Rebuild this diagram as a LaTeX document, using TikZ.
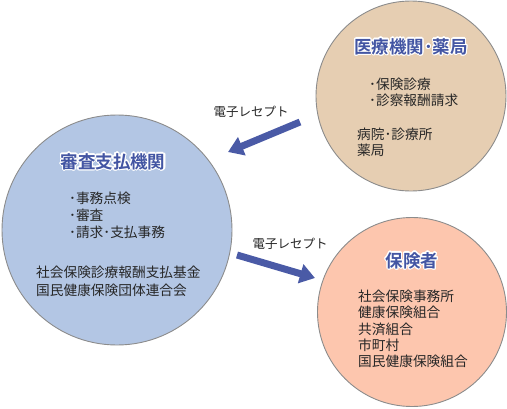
\documentclass[tikz,border=0pt]{standalone}
\usepackage{fontspec}
\setmainfont{Noto Sans CJK JP}[BoldFont={Noto Sans CJK JP Bold}]
\usepackage{contour}
\contourlength{1.1pt}
\usetikzlibrary{arrows.meta}
\definecolor{tanfill}{HTML}{E6CEB2}
\definecolor{bluefill}{HTML}{B3C6E4}
\definecolor{salmonfill}{HTML}{FDC6AE}
\definecolor{edgegray}{HTML}{8C8C8C}
\definecolor{titleblue}{HTML}{4355A3}
\definecolor{arrowblue}{HTML}{4A5AA6}
\definecolor{textgray}{HTML}{262626}
\tikzset{
  bigcircle/.style={circle, draw=edgegray, line width=0.9pt, inner sep=0pt},
  titletext/.style={text=titleblue, font=\fontsize{17.5}{20}\selectfont\bfseries, inner sep=0pt},
  bodytext/.style={text=textgray, anchor=north west, align=left, inner sep=0pt},
  labeltext/.style={text=textgray, font=\fontsize{12.5}{15}\selectfont, inner sep=0pt},
  flowarrow/.style={draw=arrowblue, line width=7pt, -{Triangle[width=19pt,length=15pt]}}
}
\begin{document}
\begin{tikzpicture}[x=1pt,y=-1pt]
\useasboundingbox (0,0) rectangle (507,408);
% circles
\node[bigcircle, fill=tanfill, minimum size=190pt] (med) at (411,96) {};
\node[bigcircle, fill=bluefill, minimum size=230pt] (rev) at (117,230) {};
\node[bigcircle, fill=salmonfill, minimum size=189pt] (ins) at (412,312) {};
% titles
\node[titletext] (medtitle) at (411,47) {\contour{white}{医療機関･薬局}};
\node[titletext] (revtitle) at (113,162) {\contour{white}{審査支払機関}};
\node[titletext] (institle) at (412,261) {\contour{white}{保険者}};
% body texts
\node[bodytext, font=\fontsize{13.7}{15.5}\selectfont] (medlist) at (369,78) {･保険診療\\･診察報酬請求};
\node[bodytext, font=\fontsize{13.7}{15.5}\selectfont] (mednames) at (357,128) {病院･診療所\\薬局};
\node[bodytext, font=\fontsize{13.7}{17}\selectfont] (revlist) at (69,192) {･事務点検\\･審査\\･請求･支払事務};
\node[bodytext, font=\fontsize{13.7}{18}\selectfont] (revnames) at (36,266) {社会保険診療報酬支払基金\\国民健康保険団体連合会};
\node[bodytext, font=\fontsize{13.7}{16.25}\selectfont] (insnames) at (358,290) {社会保険事務所\\健康保険組合\\共済組合\\市町村\\国民健康保険組合};
% arrows
\coordinate (a1s) at (300,122);
\coordinate (a1e) at (228,152);
\coordinate (a2s) at (237,255);
\coordinate (a2e) at (315,278);
\draw[flowarrow] (a1s) -- (a1e);
\draw[flowarrow] (a2s) -- (a2e);
\node[labeltext] (lab1) at (251,112) {電子レセプト};
\node[labeltext] (lab2) at (290,244) {電子レセプト};
\end{tikzpicture}
\end{document}
